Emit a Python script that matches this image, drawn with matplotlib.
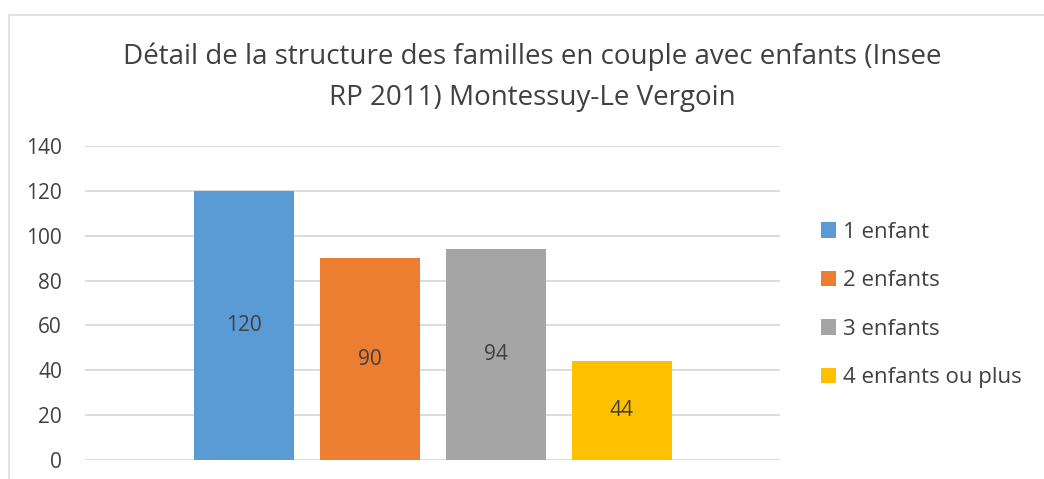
import matplotlib
matplotlib.use("Agg")
import matplotlib.pyplot as plt
from matplotlib.patches import Rectangle, Patch

plt.rcParams['font.family'] = ['Open Sans', 'DejaVu Sans']

title = "Détail de la structure des familles en couple avec enfants (Insee\nRP 2011) Montessuy-Le Vergoin"
series = ["1 enfant", "2 enfants", "3 enfants", "4 enfants ou plus"]
values = [120, 90, 94, 44]
colors = ["#5B9BD5", "#ED7D31", "#A5A5A5", "#FFC000"]
yticks = [0, 20, 40, 60, 80, 100, 120, 140]

W, H = 1044, 479
fig = plt.figure(figsize=(W / 100, H / 100), dpi=100)

# chart border
fig.patches.append(Rectangle((9 / W, -0.1), 1.2, (H - 15) / H + 0.1, transform=fig.transFigure,
                             fill=False, edgecolor="#D9D9D9", linewidth=1.1))

ax = fig.add_axes([85 / W, (H - 460) / H, (780 - 85) / W, (460 - 146) / H])
txt = "#404040"

bar_w = 1.0
gap = 0.26
span = 6.95
center = span / 2
n = len(values)
for i, (lab, v, c) in enumerate(zip(series, values, colors)):
    x = center + (i - (n - 1) / 2) * (bar_w + gap)
    ax.bar(x, v, width=bar_w, color=c, label=lab, zorder=3)
    ax.text(x, v / 2, str(v), ha="center", va="center", fontsize=15, color=txt, zorder=4)

ax.set_xlim(0, span)
ax.set_ylim(0, 140)
ax.set_yticks(yticks)
ax.set_xticks([])
ax.tick_params(axis="y", length=0, labelsize=15, labelcolor=txt, pad=16.5)
for s in ax.spines.values():
    s.set_visible(False)
ax.grid(axis="y", color="#D9D9D9", linewidth=1.3, zorder=0)
ax.set_axisbelow(True)

fig.text(532 / W, 1 - 77 / H, title, ha="center", va="center", fontsize=20, color=txt,
         linespacing=1.6)

handles = [Patch(facecolor=c, edgecolor="none") for c in colors]
leg = fig.legend(handles, series, loc="center left", bbox_to_anchor=(801 / W, 1 - 305 / H),
                 frameon=False, fontsize=16, labelcolor=txt, handlelength=0.68, handleheight=0.68,
                 handletextpad=0.32, labelspacing=1.24)

fig.savefig("out.png", dpi=100)
